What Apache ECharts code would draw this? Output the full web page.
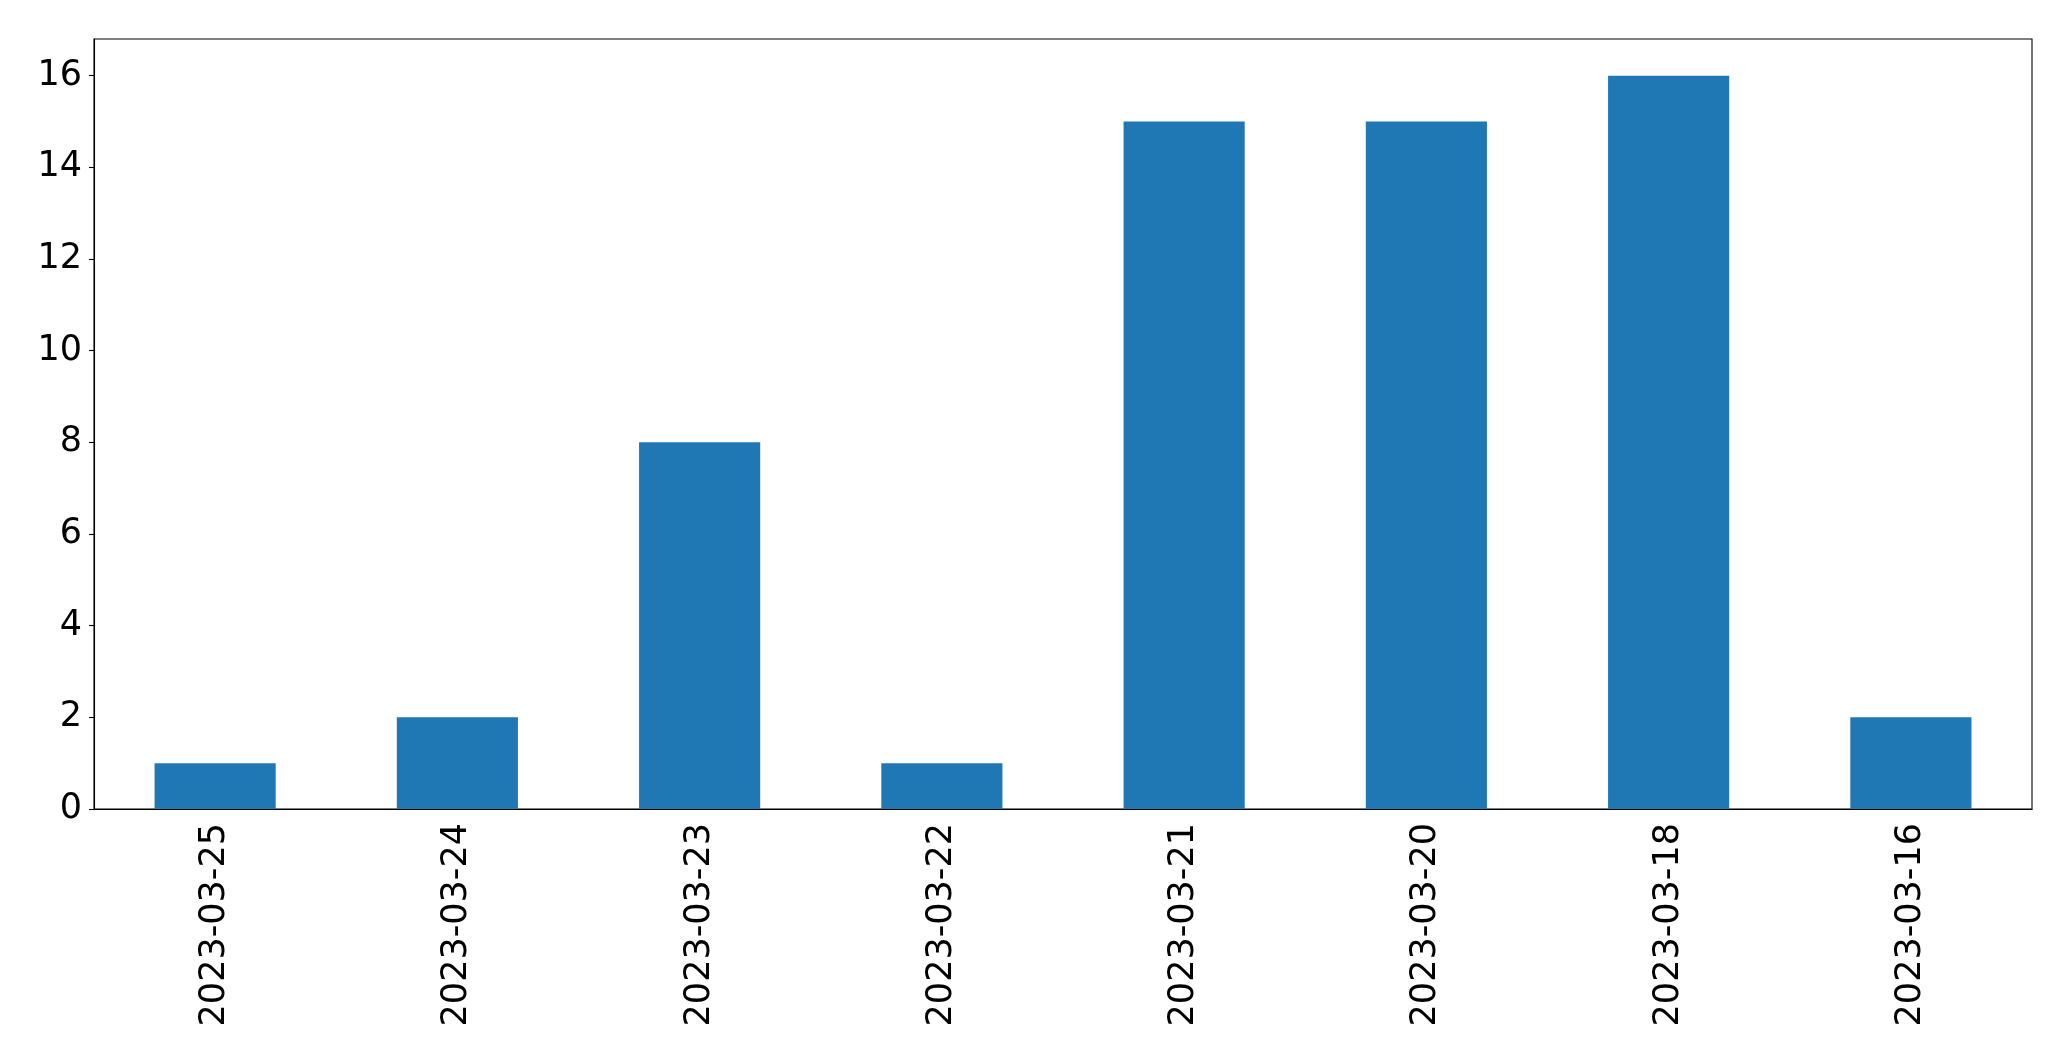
<!DOCTYPE html>
<html>
<head>
<meta charset="utf-8">
<script src="https://cdn.jsdelivr.net/npm/echarts@6/dist/echarts.min.js"></script>
<style>html,body{margin:0;padding:0;background:#fff;}#c{width:2071px;height:1061px;}</style>
</head>
<body>
<div id="c"></div>
<script>
const categories = ["2023-03-25","2023-03-24","2023-03-23","2023-03-22","2023-03-21","2023-03-20","2023-03-18","2023-03-16"];
const values = [1, 2, 8, 1, 15, 15, 16, 2];
const yTicks = [0, 2, 4, 6, 8, 10, 12, 14, 16];

const chart = echarts.init(document.getElementById('c'), null, {renderer: 'canvas'});
const font = 'DejaVu Sans';
chart.setOption({
  animation: false,
  backgroundColor: '#ffffff',
  grid: {left: 94, top: 39, right: 39, bottom: 252, show: true, borderColor: '#000', borderWidth: 1.1, backgroundColor: 'transparent'},
  xAxis: {
    type: 'category',
    data: categories,
    axisLine: {lineStyle: {color: '#000', width: 1.1}},
    axisTick: {alignWithLabel: true, length: 5, lineStyle: {color: '#000', width: 1.1}},
    axisLabel: {rotate: 90, color: '#000', fontFamily: font, fontSize: 35, margin: 14, interval: 0},
    splitLine: {show: false}
  },
  yAxis: {
    type: 'value',
    min: 0, max: 16.8, interval: 2,
    axisLine: {show: true, lineStyle: {color: '#000', width: 1.1}},
    axisTick: {show: true, length: 5, customValues: yTicks, lineStyle: {color: '#000', width: 1.1}},
    axisLabel: {color: '#000', fontFamily: font, fontSize: 35, margin: 12, customValues: yTicks},
    splitLine: {show: false}
  },
  series: [{
    type: 'bar',
    data: values,
    barWidth: '50%',
    itemStyle: {color: '#1f77b4'}
  }]
});
</script>
</body>
</html>
